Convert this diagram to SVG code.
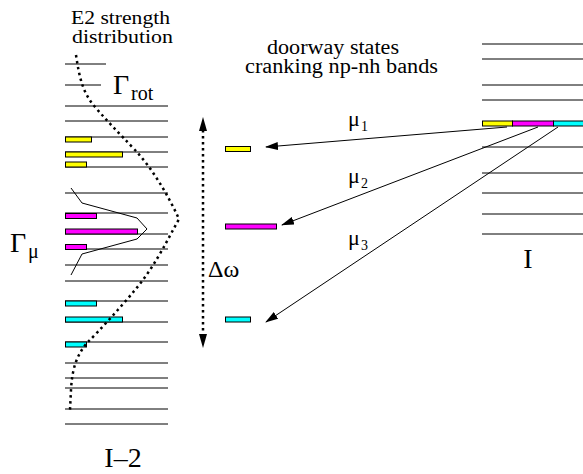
<svg xmlns="http://www.w3.org/2000/svg" width="583" height="474" viewBox="0 0 583 474">
<defs>
<style>
.lv{stroke:#000;stroke-width:1;fill:none}
.t{font-family:"Liberation Serif","Times New Roman",serif;fill:#000}
.y{fill:#ffff00;stroke:#000;stroke-width:1}
.m{fill:#ff00ff;stroke:#000;stroke-width:1}
.c{fill:#00ffff;stroke:#000;stroke-width:1}
.dot{stroke:#000;stroke-width:2.5;fill:none;stroke-dasharray:2.5,3.5}
.ar{stroke:#000;stroke-width:1;fill:none}
</style>
<marker id="ah" markerWidth="13" markerHeight="8" refX="12" refY="4" orient="auto" markerUnits="userSpaceOnUse">
<path d="M0,0 L13,4 L0,8 Z" fill="#000"/>
</marker>
</defs>
<rect width="583" height="474" fill="#fff"/>
<g id="labels">
<text class="t" x="71" y="24" font-size="19" textLength="99" lengthAdjust="spacingAndGlyphs">E2 strength</text>
<text class="t" x="72" y="43" font-size="19" textLength="101" lengthAdjust="spacingAndGlyphs">distribution</text>
<text class="t" x="267" y="54" font-size="20" textLength="132" lengthAdjust="spacingAndGlyphs">doorway states</text>
<text class="t" x="245" y="73" font-size="20" textLength="193" lengthAdjust="spacingAndGlyphs">cranking np-nh bands</text>
<text class="t" x="113" y="94" font-size="28">Γ</text>
<text class="t" x="131" y="100" font-size="20">rot</text>
<text class="t" x="10" y="252" font-size="28">Γ</text>
<text class="t" x="28" y="258" font-size="20">μ</text>
<text class="t" x="208" y="277" font-size="24">Δω</text>
<text class="t" x="123" y="467" font-size="28" text-anchor="middle">I–2</text>
<text class="t" x="528" y="268" font-size="28" text-anchor="middle">I</text>
</g>
<g id="left-band">
<line class="lv" x1="65" y1="64" x2="106" y2="64"/>
<line class="lv" x1="65" y1="85" x2="101" y2="85"/>
<line class="lv" x1="65" y1="106" x2="168" y2="106"/>
<line class="lv" x1="65" y1="121" x2="168" y2="121"/>
<line class="lv" x1="65" y1="137" x2="168" y2="137"/>
<line class="lv" x1="65" y1="152" x2="168" y2="152"/>
<line class="lv" x1="65" y1="167" x2="168" y2="167"/>
<line class="lv" x1="65" y1="193" x2="168" y2="193"/>
<line class="lv" x1="65" y1="213" x2="168" y2="213"/>
<line class="lv" x1="65" y1="234" x2="168" y2="234"/>
<line class="lv" x1="65" y1="249" x2="168" y2="249"/>
<line class="lv" x1="65" y1="265" x2="168" y2="265"/>
<line class="lv" x1="65" y1="281" x2="168" y2="281"/>
<line class="lv" x1="65" y1="301" x2="168" y2="301"/>
<line class="lv" x1="65" y1="322" x2="168" y2="322"/>
<line class="lv" x1="65" y1="342" x2="168" y2="342"/>
<line class="lv" x1="65" y1="363" x2="168" y2="363"/>
<line class="lv" x1="65" y1="378" x2="168" y2="378"/>
<line class="lv" x1="65" y1="388" x2="168" y2="388"/>
<line class="lv" x1="65" y1="409" x2="168" y2="409"/>
<line class="lv" x1="65" y1="424" x2="168" y2="424"/>
<rect class="y" x="65.5" y="137" width="26" height="5"/>
<rect class="y" x="65.5" y="152" width="57" height="5"/>
<rect class="y" x="65.5" y="162" width="21" height="5"/>
<rect class="m" x="65.5" y="213.5" width="31" height="5"/>
<rect class="m" x="65.5" y="229" width="72" height="5"/>
<rect class="m" x="65.5" y="244.5" width="21" height="5"/>
<rect class="c" x="65.5" y="301" width="31" height="5"/>
<rect class="c" x="65.5" y="317" width="57" height="5"/>
<rect class="c" x="65.5" y="342" width="21" height="5"/>
<path class="dot" d="M76,55 C79,75 82,92 95,107 C108,122 118,132 135,150 C152,168 168,195 179,219 L173,230 C165,245 152,270 135,290 C120,308 100,330 87,343 C76,356 72,370 71,390 L70,410"/>
<path class="lv" d="M71,188 L82,203 L137,218 L147,229 L137,239 L82,254 L71,275"/>
</g>
<g id="doorway-states">
<rect class="y" x="225.5" y="146.5" width="25" height="5"/>
<rect class="m" x="225.5" y="224" width="51" height="5"/>
<rect class="c" x="225.5" y="317" width="25" height="5"/>
</g>
<g id="right-band">
<line class="lv" x1="482" y1="44" x2="583" y2="44"/>
<line class="lv" x1="482" y1="59" x2="583" y2="59"/>
<line class="lv" x1="482" y1="85" x2="583" y2="85"/>
<line class="lv" x1="482" y1="100" x2="583" y2="100"/>
<line class="lv" x1="482" y1="147" x2="583" y2="147"/>
<line class="lv" x1="482" y1="173" x2="583" y2="173"/>
<line class="lv" x1="482" y1="193" x2="583" y2="193"/>
<line class="lv" x1="482" y1="214" x2="583" y2="214"/>
<line class="lv" x1="482" y1="234" x2="583" y2="234"/>
<rect class="y" x="482.5" y="121" width="30" height="5"/>
<rect class="m" x="512.5" y="121" width="41" height="5"/>
<rect class="c" x="553.5" y="121" width="30" height="5"/>
</g>
<g id="connectors">
<line class="ar" x1="507" y1="127" x2="266" y2="147" marker-end="url(#ah)"/>
<line class="ar" x1="538" y1="127" x2="282" y2="225" marker-end="url(#ah)"/>
<line class="ar" x1="558" y1="127" x2="266" y2="322" marker-end="url(#ah)"/>
<line class="dot" x1="203" y1="130" x2="203" y2="335"/>
<path d="M203,117 L207,131 L199,131 Z" fill="#000"/>
<path d="M203,348 L207,334 L199,334 Z" fill="#000"/>
<text class="t" x="348" y="126" font-size="22">μ</text>
<text class="t" x="361" y="131" font-size="14">1</text>
<text class="t" x="348" y="183" font-size="22">μ</text>
<text class="t" x="361" y="188" font-size="14">2</text>
<text class="t" x="348" y="245" font-size="22">μ</text>
<text class="t" x="361" y="250" font-size="14">3</text>
</g>
</svg>
